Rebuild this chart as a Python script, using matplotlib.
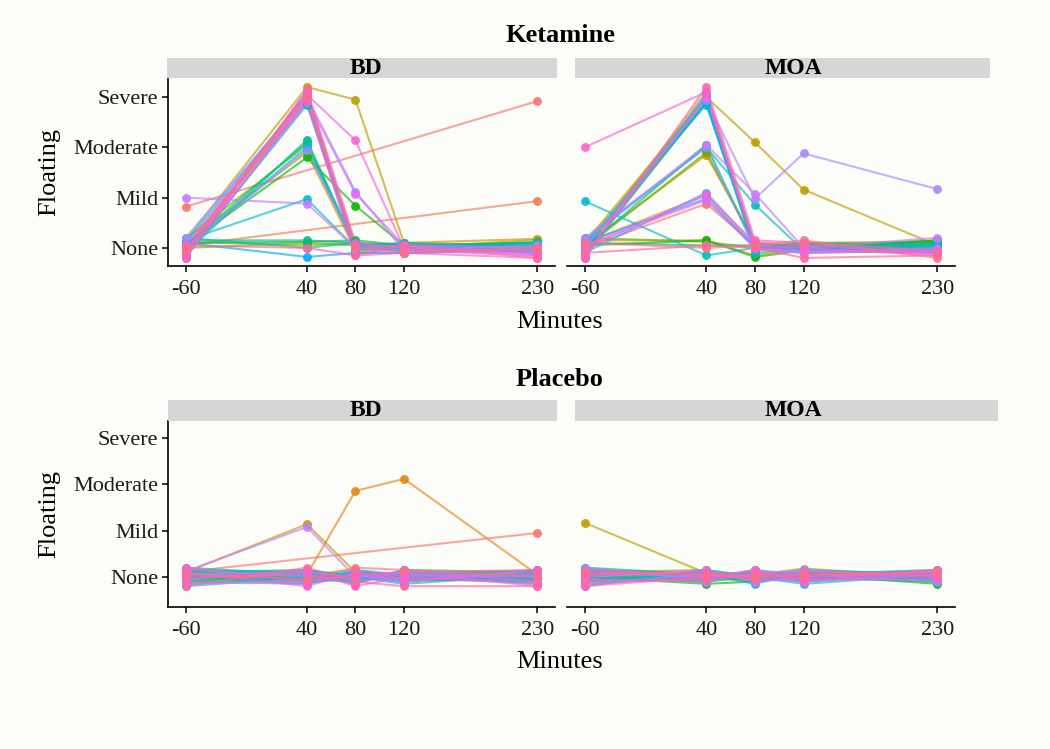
import numpy as np
import matplotlib
matplotlib.use('Agg')
import matplotlib.pyplot as plt
from matplotlib.patches import Rectangle

plt.rcParams['font.family'] = ['Liberation Serif', 'DejaVu Serif']

# Datos: tiempos (minutos) y niveles de "Floating"
times = [-60, 40, 80, 120, 230]
levels = ['None', 'Mild', 'Moderate', 'Severe']
drugs = ['Ketamine', 'Placebo']
groups = ['BD', 'MOA']

# una fila por sujeto, valores en cada tiempo (None = sin dato)
ket_bd = [
    [0.82, None, None, None, 2.92],
    [0.05, None, None, None, 0.93],
    [-0.10, 3.00, 0.05, -0.05, 0.00],
    [0.10, 1.90, -0.05, 0.05, 0.10],
    [0.00, 2.90, 0.00, 0.10, 0.05],
    [0.15, 3.20, 2.95, 0.10, 0.18],
    [0.12, 0.05, 0.10, 0.00, 0.16],
    [-0.05, 3.10, -0.10, 0.00, 0.10],
    [0.00, 0.10, 0.05, 0.10, -0.10],
    [0.18, 2.05, 0.00, -0.05, 0.05],
    [0.05, 1.80, 0.84, 0.05, 0.00],
    [0.10, 0.12, 0.15, 0.05, 0.10],
    [0.05, 2.10, 0.05, 0.00, 0.12],
    [0.15, 0.15, 0.10, 0.05, 0.05],
    [-0.10, 2.15, 0.00, 0.05, -0.05],
    [0.20, 0.00, 0.10, -0.10, 0.00],
    [0.15, 0.97, 0.00, 0.05, 0.05],
    [0.00, 2.00, 0.05, -0.05, 0.10],
    [0.10, 3.05, -0.05, 0.00, -0.10],
    [-0.15, 2.85, 0.00, 0.10, 0.00],
    [0.10, -0.18, -0.10, -0.10, -0.05],
    [-0.20, 2.95, -0.10, -0.10, 0.00],
    [0.00, 1.95, 0.05, 0.00, -0.10],
    [0.20, 3.00, 1.12, -0.05, 0.05],
    [1.00, 0.88, 0.00, -0.05, -0.15],
    [0.05, 2.95, 1.08, 0.05, 0.00],
    [-0.10, 3.10, 0.00, 0.05, -0.15],
    [0.00, 3.05, 2.14, 0.00, -0.05],
    [-0.15, 2.90, -0.15, -0.10, -0.20],
    [-0.20, 3.15, 0.10, 0.00, -0.10],
    [0.05, 0.00, -0.15, 0.05, -0.20],
    [-0.05, 3.00, 0.00, -0.10, 0.00],
]

ket_moa = [
    [0.00, 0.88, 0.05, -0.05, 0.00],
    [0.10, 1.05, 0.00, 0.10, 0.05],
    [-0.10, 2.90, 0.05, 0.00, -0.05],
    [0.05, 1.85, 0.10, 0.05, 0.00],
    [0.15, 0.15, -0.15, 0.00, 0.10],
    [0.10, 3.00, 2.10, 1.16, 0.05],
    [-0.05, 3.10, 0.00, 0.05, 0.15],
    [0.05, 2.95, 0.05, -0.05, 0.10],
    [0.20, 0.12, 0.00, 0.10, 0.12],
    [0.00, 1.90, 0.10, 0.00, 0.05],
    [0.05, 0.15, -0.18, -0.05, 0.15],
    [-0.15, 2.90, -0.05, 0.05, 0.10],
    [0.10, 0.05, 0.05, 0.00, 0.15],
    [0.00, 2.05, 0.00, 0.10, 0.05],
    [-0.05, 3.00, 0.05, 0.00, 0.00],
    [0.15, 2.00, 0.86, -0.05, 0.05],
    [0.93, -0.15, 0.00, 0.05, 0.00],
    [0.05, 2.85, 0.00, -0.10, -0.05],
    [-0.20, 3.05, -0.10, 0.00, -0.10],
    [0.00, 2.90, 0.05, -0.05, -0.05],
    [0.10, 0.98, 0.00, 0.00, 0.05],
    [-0.10, 1.10, 0.05, -0.05, -0.10],
    [0.20, 2.00, 0.00, -0.10, 0.00],
    [0.00, 2.95, 0.98, 1.88, 1.17],
    [0.15, 2.05, 1.08, 0.00, 0.20],
    [0.05, 0.95, 0.00, -0.10, -0.05],
    [-0.15, 3.00, 0.05, 0.00, -0.15],
    [0.00, 1.05, 0.10, 0.05, -0.10],
    [2.00, 3.10, 0.00, -0.05, -0.10],
    [-0.20, 3.20, 0.15, 0.10, -0.05],
    [-0.10, 0.05, 0.00, -0.20, -0.15],
    [0.10, 0.00, 0.05, 0.15, -0.20],
]

pla_bd = [
    [0.11, None, None, None, 0.95],
    [0.05, 0.10, -0.05, 0.10, 0.00],
    [0.00, 0.05, 1.86, 2.12, 0.05],
    [-0.10, 0.00, 0.05, -0.05, 0.10],
    [0.15, -0.05, 0.00, 0.10, -0.10],
    [0.10, 1.14, 0.10, 0.00, 0.05],
    [-0.05, 0.10, -0.10, 0.05, 0.15],
    [0.00, -0.10, 0.05, -0.10, 0.05],
    [0.12, 0.05, 0.15, 0.00, -0.05],
    [-0.15, 0.00, -0.05, 0.10, 0.10],
    [0.05, -0.05, 0.10, -0.05, -0.10],
    [0.10, 0.15, 0.00, 0.05, 0.00],
    [-0.10, 0.05, -0.15, 0.15, 0.10],
    [0.00, -0.15, 0.05, 0.00, -0.05],
    [0.15, 0.10, 0.00, -0.10, 0.15],
    [-0.05, 0.00, 0.10, 0.05, -0.15],
    [0.05, -0.10, -0.05, 0.10, 0.05],
    [0.20, 0.05, 0.05, -0.05, 0.00],
    [-0.20, 0.00, 0.10, 0.00, 0.10],
    [0.10, -0.05, -0.10, 0.15, -0.05],
    [0.00, 0.15, 0.00, -0.15, 0.05],
    [-0.10, -0.15, 0.15, 0.05, -0.10],
    [0.15, 0.00, -0.05, 0.00, 0.10],
    [0.05, 0.10, 0.00, 0.10, -0.20],
    [0.12, 1.08, 0.00, 0.05, 0.00],
    [-0.15, -0.10, 0.05, -0.10, 0.15],
    [0.00, 0.05, -0.15, 0.15, -0.10],
    [0.10, -0.20, 0.10, -0.05, 0.05],
    [-0.05, 0.15, -0.20, 0.00, -0.15],
    [0.20, -0.10, 0.05, 0.10, 0.15],
    [-0.20, 0.20, -0.10, -0.20, -0.20],
    [0.05, -0.05, 0.20, 0.15, 0.00],
]

pla_moa = [
    [0.05, 0.10, 0.00, 0.05, 0.15],
    [-0.10, 0.00, 0.05, -0.05, 0.10],
    [0.10, 0.05, -0.05, 0.10, 0.00],
    [0.00, -0.10, 0.10, 0.00, 0.05],
    [0.15, 0.00, -0.10, 0.05, -0.05],
    [1.17, 0.08, 0.05, 0.18, 0.00],
    [-0.05, 0.10, 0.00, -0.10, 0.10],
    [0.05, -0.05, 0.15, 0.00, -0.10],
    [0.10, 0.15, 0.00, 0.10, 0.05],
    [-0.15, 0.00, 0.05, -0.05, 0.00],
    [0.00, -0.15, -0.10, 0.05, -0.15],
    [0.20, 0.05, 0.10, -0.10, 0.10],
    [-0.10, 0.10, -0.05, 0.00, -0.05],
    [0.05, -0.10, 0.00, 0.15, 0.05],
    [0.15, 0.00, 0.10, -0.05, 0.00],
    [-0.05, 0.05, -0.15, 0.10, 0.10],
    [0.10, -0.05, 0.05, 0.00, -0.10],
    [-0.20, 0.15, 0.00, -0.15, 0.05],
    [0.00, -0.10, 0.10, 0.05, 0.15],
    [0.15, 0.05, -0.10, 0.00, -0.05],
    [-0.10, 0.00, 0.05, 0.10, 0.00],
    [0.05, 0.10, 0.00, -0.05, 0.10],
    [0.20, -0.05, 0.15, 0.05, -0.10],
    [-0.15, 0.05, -0.05, -0.10, 0.05],
    [0.10, 0.00, 0.05, 0.15, 0.00],
    [0.00, 0.15, -0.10, 0.00, 0.10],
    [-0.05, -0.10, 0.10, -0.05, -0.05],
    [0.15, 0.05, 0.00, 0.10, 0.05],
    [-0.20, 0.00, 0.15, -0.10, 0.15],
    [0.05, 0.10, -0.05, 0.05, 0.00],
    [-0.10, -0.05, 0.05, 0.00, 0.10],
    [0.10, 0.05, 0.00, 0.05, 0.12],
]

W, H = 1050, 749
BG = '#fcfcf9'
fig = plt.figure(figsize=(W / 100, H / 100), dpi=100)
fig.patch.set_facecolor(BG)


def fx(px):
    return px / W


def fy(py):
    return 1 - py / H


def hue_color(h, c=100, l=65):
    # paleta tipo ggplot (HCL -> sRGB)
    hr = np.deg2rad(h)
    u, v = c * np.cos(hr), c * np.sin(hr)
    Y = ((l + 16) / 116) ** 3
    up = u / (13 * l) + 0.19784
    vp = v / (13 * l) + 0.46832
    X = Y * 9 * up / (4 * vp)
    Z = Y * (12 - 3 * up - 20 * vp) / (4 * vp)
    M = np.array([[3.2406, -1.5372, -0.4986],
                  [-0.9689, 1.8758, 0.0415],
                  [0.0557, -0.2040, 1.0570]])
    rgb = M @ np.array([X, Y, Z])
    rgb = np.where(rgb > 0.0031308, 1.055 * np.abs(rgb) ** (1 / 2.4) - 0.055, 12.92 * rgb)
    return tuple(np.clip(rgb, 0, 1))


def draw_panel(box, data, ylim, left_axis):
    x0, y0, x1, y1 = box
    ax = fig.add_axes([fx(x0), fy(y1), fx(x1) - fx(x0), fy(y0) - fy(y1)])
    ax.set_facecolor(BG)
    n = len(data)
    cols = [hue_color(15 + 360 * i / n) for i in range(n)]
    vals = np.array(data, dtype=float)
    t = np.array(times, dtype=float)
    for i in range(n):
        m = ~np.isnan(vals[i])
        ax.plot(t[m], vals[i][m], '-', color=cols[i], lw=1.5, alpha=0.65)
    for i in range(n):
        m = ~np.isnan(vals[i])
        ax.plot(t[m], vals[i][m], 'o', color=cols[i], ms=6.4, alpha=0.9, mec='none')
    ax.set_xlim(-74.5, 244.5)
    ax.set_ylim(*ylim)
    ax.set_xticks(times)
    ax.set_xticklabels([str(v) for v in times], fontsize=16, color='#1a1a1a')
    for s in ['top', 'right']:
        ax.spines[s].set_visible(False)
    ax.spines['bottom'].set_linewidth(1.2)
    ax.tick_params(axis='x', length=4, width=1.1, pad=6)
    if left_axis:
        ax.spines['left'].set_linewidth(1.2)
        ax.set_yticks(range(4))
        ax.set_yticklabels(levels, fontsize=16, color='#1a1a1a')
        ax.tick_params(axis='y', length=4, width=1.1, pad=3)
    else:
        ax.spines['left'].set_visible(False)
        ax.set_yticks([])
    return ax


def strip(box, text, tx):
    x0, y0, x1, y1 = box
    fig.add_artist(Rectangle((fx(x0), fy(y1)), fx(x1) - fx(x0), fy(y0) - fy(y1),
                             transform=fig.transFigure, facecolor='#d6d6d6',
                             edgecolor='none'))
    fig.text(fx(tx), fy((y0 + y1) / 2), text, ha='center', va='center',
             fontsize=17, fontweight='bold')


rows = [
    dict(data=[ket_bd, ket_moa], top=79, bot=266, ylim=(-0.36, 3.36),
         strip=(58, 78), title_y=35, ylab_y=172, xlab_y=322),
    dict(data=[pla_bd, pla_moa], top=421, bot=607, ylim=(-0.65, 3.37),
         strip=(400, 421), title_y=380, ylab_y=514, xlab_y=662),
]
cols_px = [(168, 555), (567, 955)]
strip_px = [[(167, 557), (575, 990)], [(168, 557), (575, 998)]]
strip_tx = [366, 793]

for r, row in enumerate(rows):
    for c in range(2):
        draw_panel((cols_px[c][0], row['top'], cols_px[c][1], row['bot']),
                   row['data'][c], row['ylim'], c == 0)
        sx0, sx1 = strip_px[r][c]
        strip((sx0, row['strip'][0], sx1, row['strip'][1]), groups[c], strip_tx[c])
    fig.text(fx(560), fy(row['title_y']), drugs[r], ha='center', va='center',
             fontsize=19, fontweight='bold')
    fig.text(fx(49), fy(row['ylab_y']), 'Floating', ha='center', va='center',
             rotation=90, fontsize=19)
    fig.text(fx(560), fy(row['xlab_y']), 'Minutes', ha='center', va='center',
             fontsize=19)

fig.savefig('out.png', dpi=100, facecolor=BG)
